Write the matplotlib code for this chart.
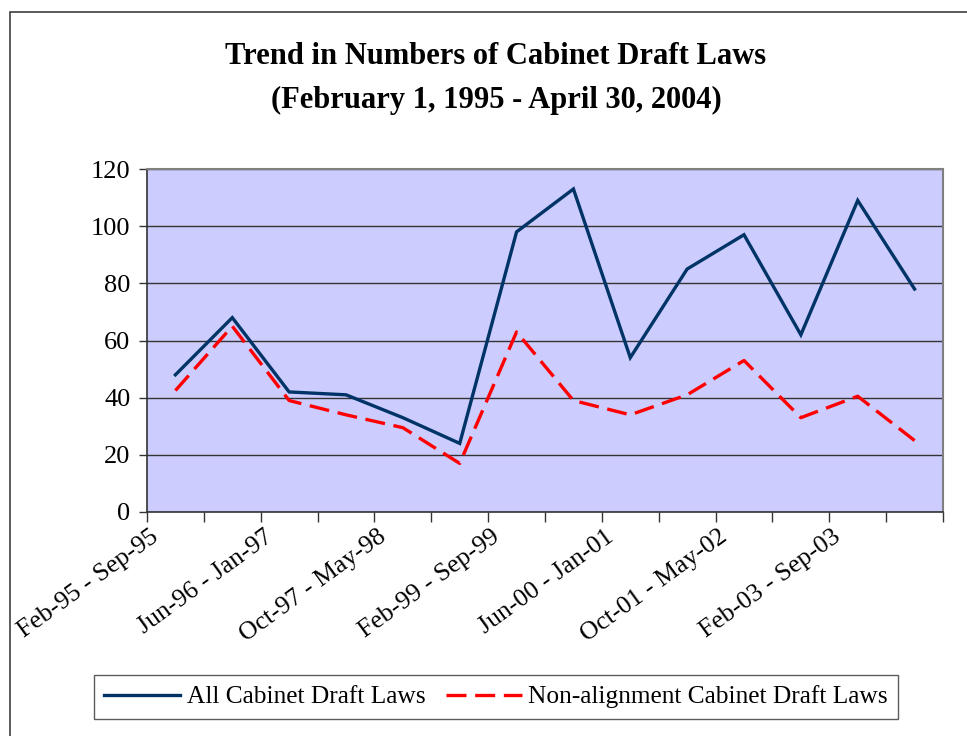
import matplotlib.pyplot as plt
from matplotlib.patches import Rectangle

# categories: 8-month periods
periods = ['Feb-95 - Sep-95', 'Oct-95 - May-96', 'Jun-96 - Jan-97', 'Feb-97 - Sep-97',
           'Oct-97 - May-98', 'Jun-98 - Jan-99', 'Feb-99 - Sep-99', 'Oct-99 - May-00',
           'Jun-00 - Jan-01', 'Feb-01 - Sep-01', 'Oct-01 - May-02', 'Jun-02 - Jan-03',
           'Feb-03 - Sep-03', 'Oct-03 - Apr-04']
all_laws = [48, 68, 42, 41, 33, 24, 98, 113, 54, 85, 97, 62, 109, 78]
non_alignment = [42.5, 65, 39, 34, 29.5, 17, 63, 39, 34, 41, 53, 33, 40.5, 25]
y_ticks = [0, 20, 40, 60, 80, 100, 120]

plt.rcParams['font.family'] = 'Liberation Serif'

fig = plt.figure(figsize=(9.67, 7.36), dpi=100)
ax = fig.add_axes([147 / 967, 1 - 512 / 736, (943 - 147) / 967, (512 - 169) / 736])

# outer chart frame
fig.patches.append(Rectangle((10 / 967, -0.1), 1.2, 1 - 12 / 736 + 0.1,
                             transform=fig.transFigure, fill=False,
                             edgecolor='#404040', linewidth=1.2))

x = list(range(len(periods)))
ax.plot(x, all_laws, color='#003366', linewidth=2.4, label='All Cabinet Draft Laws',
        solid_joinstyle='miter', zorder=3)
ax.plot(x, non_alignment, color='#FF0000', linewidth=2.4, dashes=(6, 2.6),
        label='Non-alignment Cabinet Draft Laws', zorder=3)

ax.set_facecolor('#CCCCFF')
ax.set_xlim(-0.5, len(periods) - 0.5)
ax.set_ylim(0, 120)
ax.set_yticks(y_ticks)
ax.set_yticklabels([str(v) for v in y_ticks], fontsize=19)
ax.yaxis.grid(True, color='#333333', linewidth=1)
ax.set_axisbelow(True)

# ticks between categories, labels on every other category
# (label anchors nudged left so the rotated text ends just before the category centre)
ax.set_xticks([i - 0.5 for i in range(len(periods) + 1)])
ax.set_xticklabels([])
ax.set_xticks([i - 0.45 for i in x[::2]], minor=True)
ax.set_xticklabels(periods[::2], minor=True, rotation=36, ha='right', va='top',
                   rotation_mode='anchor', fontsize=18.5)
ax.tick_params(axis='x', which='minor', length=0, pad=10)
ax.tick_params(axis='x', which='major', length=7, width=1, color='#333333')
ax.tick_params(axis='y', length=6, width=1, color='#333333', pad=6)

for side in ['top', 'right']:
    ax.spines[side].set_color('#808080')
    ax.spines[side].set_linewidth(1.5)
for side in ['left', 'bottom']:
    ax.spines[side].set_color('#333333')
    ax.spines[side].set_linewidth(1.2)

fig.text(496 / 967, 1 - 57 / 736, 'Trend in Numbers of Cabinet Draft Laws',
         ha='center', va='center', fontsize=22, fontweight='bold')
fig.text(496 / 967, 1 - 100 / 736, '(February 1, 1995 - April 30, 2004)',
         ha='center', va='center', fontsize=22, fontweight='bold')

leg = fig.legend(loc='center', bbox_to_anchor=(496 / 967, 1 - 697 / 736), ncol=2,
                 fontsize=18.3, frameon=True, fancybox=False, edgecolor='#333333',
                 handlelength=3.0, columnspacing=0.8, handletextpad=0.25,
                 borderpad=0.4, borderaxespad=0)
leg.get_frame().set_linewidth(1)

fig.savefig('out.png', dpi=100)
